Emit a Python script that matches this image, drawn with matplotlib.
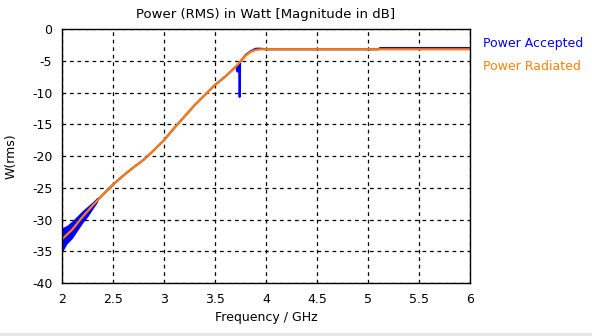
import numpy as np
import matplotlib.pyplot as plt
from matplotlib.patches import Rectangle

# frequency grid (GHz)
freq = [2.0, 2.1, 2.2, 2.3, 2.4, 2.5, 2.6, 2.7, 2.8, 2.9, 3.0, 3.1, 3.2,
        3.3, 3.4, 3.5, 3.6, 3.7, 3.75, 3.8, 3.85, 3.9, 3.95, 4.0, 4.5,
        5.0, 5.5, 6.0]

# power radiated (dB)
radiated = [-33.1, -31.6, -29.6, -27.8, -26.1, -24.5, -23.1, -21.8, -20.6,
            -19.1, -17.5, -15.6, -13.8, -12.0, -10.4, -8.8, -7.5, -6.0,
            -5.1, -4.2, -3.6, -3.3, -3.2, -3.2, -3.2, -3.2, -3.2, -3.2]

# power accepted (dB), with the dip near 3.74 GHz and the offset after 5.1 GHz
acc_freq = [2.0, 2.1, 2.2, 2.3, 2.4, 2.5, 2.6, 2.7, 2.8, 2.9, 3.0, 3.1, 3.2,
            3.3, 3.4, 3.5, 3.6, 3.7, 3.715, 3.72, 3.725, 3.738, 3.742,
            3.746, 3.75, 3.8, 3.85, 3.9, 3.95, 4.0, 4.5, 5.0, 5.1, 5.12,
            5.5, 6.0]
accepted = [-33.1, -31.6, -29.6, -27.8, -26.1, -24.5, -23.1, -21.8, -20.6,
            -19.1, -17.5, -15.6, -13.8, -12.0, -10.4, -8.8, -7.5, -6.0,
            -5.8, -6.7, -5.7, -5.4, -10.7, -5.2, -5.1, -4.1, -3.5, -3.1,
            -3.1, -3.2, -3.2, -3.2, -3.2, -3.0, -3.0, -3.0]

# ripple envelope of power accepted at the low end
noise_freq = [2.0, 2.05, 2.1, 2.15, 2.2, 2.25, 2.3, 2.35]
noise_hi = [-31.3, -30.9, -30.2, -29.4, -28.6, -27.9, -27.2, -26.4]
noise_lo = [-35.2, -33.8, -33.0, -31.8, -30.6, -29.6, -28.4, -27.2]

xticks = [2, 2.5, 3, 3.5, 4, 4.5, 5, 5.5, 6]
yticks = [0, -5, -10, -15, -20, -25, -30, -35, -40]

blue = "#0000ff"
orange = "#ff8000"

plt.rcParams["font.family"] = "DejaVu Sans"
plt.rcParams["font.size"] = 9

fig = plt.figure(figsize=(5.92, 3.36), dpi=100)
ax = fig.add_axes([62/592, 1-283/336, 408/592, 254/336])

ax.fill_between(noise_freq, noise_lo, noise_hi, color=blue, lw=0)
ax.plot(acc_freq, accepted, color=blue, lw=1.5)
ax.plot(freq, radiated, color=orange, lw=1.6)

ax.set_xlim(2, 6)
ax.set_ylim(-40, 0)
ax.set_xticks(xticks)
ax.set_xticklabels([f"{t:g}" for t in xticks])
ax.set_yticks(yticks)
ax.set_yticklabels([f"{t:g}" for t in yticks])
ax.tick_params(length=0, pad=7)
ax.grid(color="black", linestyle=(0, (3, 3)), lw=0.9)
for s in ax.spines.values():
    s.set_linewidth(1.0)

ax.set_title("Power (RMS) in Watt [Magnitude in dB]", fontsize=9.5, pad=8)
ax.set_xlabel("Frequency / GHz", labelpad=4)
ax.set_ylabel("W(rms)", labelpad=10)

fig.text(483/592, 1-44/336, "Power Accepted", color=blue, va="center")
fig.text(483/592, 1-67/336, "Power Radiated", color=orange, va="center")

# grey strip at the bottom edge
fig.patches.append(Rectangle((0, 0), 1, 3/336, transform=fig.transFigure,
                             color="#e8e8e8", zorder=-1))

fig.savefig("out.png", dpi=100)
